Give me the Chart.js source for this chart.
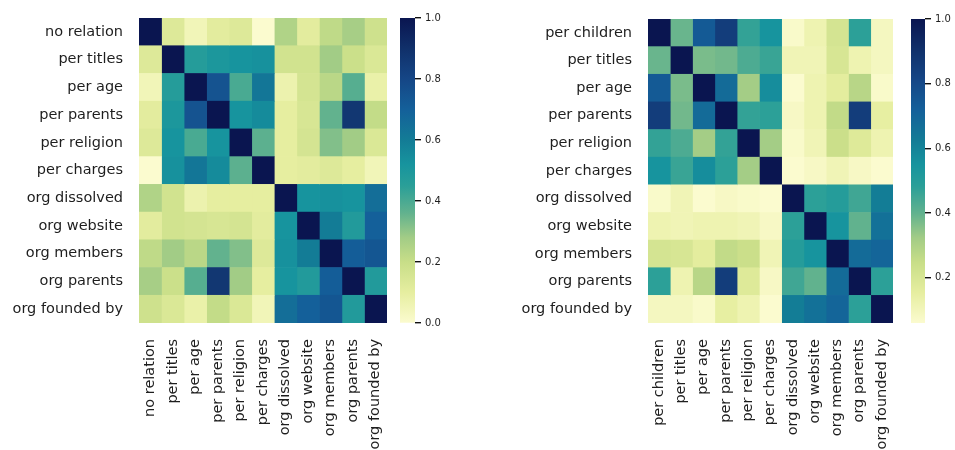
<!DOCTYPE html>
<html>
<head>
<meta charset="utf-8">
<script src="https://cdn.jsdelivr.net/npm/chart.js@4.4.1/dist/chart.umd.min.js"></script>
<style>
  html, body { margin: 0; padding: 0; background: #fff; width: 955px; height: 450px; overflow: hidden; }
  canvas { position: absolute; top: 0; }
</style>
</head>
<body>
<canvas id="heatLeft" width="397" height="450" style="left:0px"></canvas>
<canvas id="barLeft" width="55" height="450" style="left:400px"></canvas>
<canvas id="heatRight" width="423" height="450" style="left:480px"></canvas>
<canvas id="barRight" width="44" height="450" style="left:911px"></canvas>
<script>
// Relation labels (rows and columns share the same order)
const leftLabels = ['no relation', 'per titles', 'per age', 'per parents', 'per religion', 'per charges',
  'org dissolved', 'org website', 'org members', 'org parents', 'org founded by'];
const rightLabels = ['per children', 'per titles', 'per age', 'per parents', 'per religion', 'per charges',
  'org dissolved', 'org website', 'org members', 'org parents', 'org founded by'];

// Pairwise similarity, one row per relation
const leftValues = [
  [1.00, 0.13, 0.05, 0.11, 0.13, 0.00, 0.25, 0.11, 0.22, 0.27, 0.18],
  [0.13, 1.00, 0.47, 0.50, 0.52, 0.53, 0.17, 0.17, 0.28, 0.19, 0.14],
  [0.05, 0.47, 1.00, 0.75, 0.40, 0.62, 0.07, 0.16, 0.23, 0.38, 0.08],
  [0.11, 0.50, 0.75, 1.00, 0.52, 0.55, 0.10, 0.15, 0.36, 0.87, 0.21],
  [0.13, 0.52, 0.40, 0.52, 1.00, 0.37, 0.10, 0.16, 0.32, 0.28, 0.14],
  [0.00, 0.53, 0.62, 0.55, 0.37, 1.00, 0.10, 0.11, 0.13, 0.10, 0.05],
  [0.25, 0.17, 0.07, 0.10, 0.10, 0.10, 1.00, 0.52, 0.53, 0.52, 0.65],
  [0.11, 0.17, 0.16, 0.15, 0.16, 0.11, 0.52, 1.00, 0.60, 0.48, 0.70],
  [0.22, 0.28, 0.23, 0.36, 0.32, 0.13, 0.53, 0.60, 1.00, 0.71, 0.74],
  [0.27, 0.19, 0.38, 0.87, 0.28, 0.10, 0.52, 0.48, 0.71, 1.00, 0.48],
  [0.18, 0.14, 0.08, 0.21, 0.14, 0.05, 0.65, 0.70, 0.74, 0.48, 1.00]
];
const rightValues = [
  [1.00, 0.39, 0.74, 0.85, 0.47, 0.55, 0.07, 0.12, 0.21, 0.48, 0.09],
  [0.39, 1.00, 0.37, 0.38, 0.43, 0.46, 0.11, 0.11, 0.20, 0.12, 0.09],
  [0.74, 0.37, 1.00, 0.68, 0.32, 0.57, 0.06, 0.12, 0.16, 0.28, 0.07],
  [0.85, 0.38, 0.68, 1.00, 0.47, 0.48, 0.08, 0.12, 0.26, 0.85, 0.15],
  [0.47, 0.43, 0.32, 0.47, 1.00, 0.32, 0.07, 0.11, 0.24, 0.18, 0.12],
  [0.55, 0.46, 0.57, 0.48, 0.32, 1.00, 0.06, 0.08, 0.11, 0.08, 0.06],
  [0.07, 0.11, 0.06, 0.08, 0.07, 0.06, 1.00, 0.48, 0.50, 0.45, 0.62],
  [0.12, 0.11, 0.12, 0.12, 0.11, 0.08, 0.48, 1.00, 0.55, 0.40, 0.66],
  [0.21, 0.20, 0.16, 0.26, 0.24, 0.11, 0.50, 0.55, 1.00, 0.68, 0.70],
  [0.48, 0.12, 0.28, 0.85, 0.18, 0.08, 0.45, 0.40, 0.68, 1.00, 0.48],
  [0.09, 0.09, 0.07, 0.15, 0.12, 0.06, 0.62, 0.66, 0.70, 0.48, 1.00]
];

// Colour scale limits and colour-bar ticks
const leftRange = [0, 1];
const rightRange = [0.06, 1];
const leftBarTicks = [0, 0.2, 0.4, 0.6, 0.8, 1.0];
const rightBarTicks = [0.2, 0.4, 0.6, 0.8, 1.0];

// Yellow-green-blue colour ramp
const rampStops  = [0.00, 0.10, 0.20, 0.28, 0.36, 0.45, 0.52, 0.60, 0.70, 0.80, 0.90, 1.00];
const rampColors = ['#fbfbcf', '#e6eea0', '#c8de88', '#a2cc86', '#62b28e', '#2a9f98',
                    '#17949e', '#137c96', '#14609a', '#154686', '#10306a', '#0a1550'];

function hexToRgb(h) {
  const n = parseInt(h.slice(1), 16);
  return [(n >> 16) & 255, (n >> 8) & 255, n & 255];
}
function rampColor(t) {
  t = Math.max(0, Math.min(1, t));
  let i = 0;
  while (i < rampStops.length - 2 && t > rampStops[i + 1]) i++;
  const f = (t - rampStops[i]) / (rampStops[i + 1] - rampStops[i]);
  const a = hexToRgb(rampColors[i]), b = hexToRgb(rampColors[i + 1]);
  const c = a.map((v, k) => Math.round(v + (b[k] - v) * f));
  return `rgb(${c[0]},${c[1]},${c[2]})`;
}
function cellColor(v, range) {
  return rampColor((v - range[0]) / (range[1] - range[0]));
}

const fontFamily = "'DejaVu Sans', 'Liberation Sans', sans-serif";
const labelFont = { family: fontFamily, size: 14.5 };
const textColor = '#1e1e1e';

// keep label overhang from shrinking the plot area
function noOverhang(axis) {
  axis.paddingTop = 0; axis.paddingBottom = 0;
  axis.paddingLeft = 0; axis.paddingRight = 0;
}

function heatmap(canvasId, labels, values, range, axisWidth, top) {
  const n = labels.length;
  // one dataset per column; each bar spans its column on the value axis
  const datasets = labels.map((_, j) => ({
    data: labels.map(() => [j, j + 1]),
    backgroundColor: values.map(row => cellColor(row[j], range)),
    borderWidth: 0,
    grouped: false,
    barPercentage: 1,
    categoryPercentage: 1
  }));
  return new Chart(document.getElementById(canvasId), {
    type: 'bar',
    data: { labels, datasets },
    options: {
      indexAxis: 'y',
      responsive: false,
      animation: false,
      layout: { padding: { top: top, right: 10, bottom: 0, left: 0 } },
      plugins: { legend: { display: false }, tooltip: { enabled: false } },
      scales: {
        x: {
          type: 'linear', min: 0, max: n,
          grid: { display: false, drawTicks: false },
          border: { display: false },
          afterBuildTicks: axis => { axis.ticks = labels.map((_, j) => ({ value: j + 0.5 })); },
          afterFit: axis => { axis.height = 450 - 323; noOverhang(axis); },
          ticks: {
            autoSkip: false, minRotation: 90, maxRotation: 90, padding: 16,
            color: textColor, font: labelFont,
            callback: (v, i) => labels[i]
          }
        },
        y: {
          type: 'category',
          grid: { display: false, drawTicks: false },
          border: { display: false },
          afterFit: axis => { axis.width = axisWidth; noOverhang(axis); },
          ticks: { padding: 16, color: textColor, font: labelFont, autoSkip: false }
        }
      }
    }
  });
}

function colorbar(canvasId, range, tickValues, axisWidth, top) {
  return new Chart(document.getElementById(canvasId), {
    type: 'bar',
    data: {
      labels: [''],
      datasets: [{
        data: [[range[0], range[1]]],
        barPercentage: 1,
        categoryPercentage: 1,
        borderWidth: 0,
        backgroundColor: ctx => {
          const chart = ctx.chart;
          const area = chart.chartArea;
          if (!area) return rampColors[0];
          const g = chart.ctx.createLinearGradient(0, area.bottom, 0, area.top);
          rampStops.forEach((s, i) => g.addColorStop(s, rampColors[i]));
          return g;
        }
      }]
    },
    options: {
      responsive: false,
      animation: false,
      layout: { padding: { top: top, bottom: 450 - 323, left: 0, right: 0 } },
      plugins: { legend: { display: false }, tooltip: { enabled: false } },
      scales: {
        x: { display: false },
        y: {
          position: 'right', min: range[0], max: range[1],
          afterBuildTicks: axis => { axis.ticks = tickValues.map(v => ({ value: v })); },
          afterFit: axis => { axis.width = axisWidth; noOverhang(axis); },
          grid: { drawOnChartArea: false, drawTicks: true, tickLength: 6, color: '#111', lineWidth: 1.4 },
          border: { display: false },
          ticks: {
            padding: 4, color: textColor,
            font: { family: fontFamily, size: 10 },
            callback: v => Number(v).toFixed(1)
          }
        }
      }
    }
  });
}

heatmap('heatLeft', leftLabels, leftValues, leftRange, 139, 18);
colorbar('barLeft', leftRange, leftBarTicks, 55 - 15, 18);
heatmap('heatRight', rightLabels, rightValues, rightRange, 648 - 480, 19);
colorbar('barRight', rightRange, rightBarTicks, 44 - 14, 19);
</script>
</body>
</html>
